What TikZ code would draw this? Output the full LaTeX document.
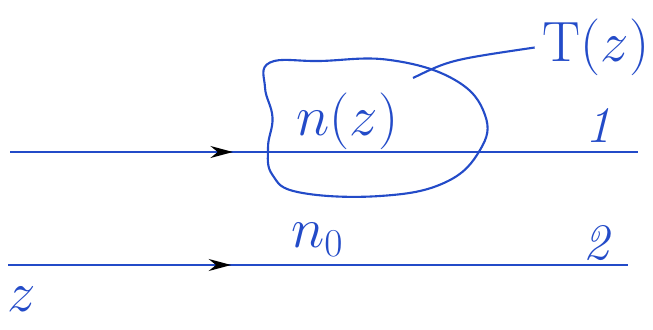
\documentclass[tikz,border=0pt]{standalone}
\usepackage{amsmath,amssymb}
\usepackage{tikz}
\usepackage{xcolor}
\usetikzlibrary{arrows.meta,decorations.markings}
\definecolor{ink}{RGB}{35,75,200}

\begin{document}
\begin{tikzpicture}[x=1cm,y=1cm,every node/.style={font=\fontsize{24}{28}\selectfont,text=ink,scale=1.3},
  ray/.style={ink,line width=1.2pt,postaction={decorate},
    decoration={markings,mark=at position #1 with {\arrow[black]{Stealth[length=4.5mm,width=2.4mm]}}}}]
\useasboundingbox (0,0) rectangle (13.06,-6.58);
% the two rays
\coordinate (a1) at (0.2,-3.04);
\coordinate (b1) at (12.76,-3.04);
\coordinate (a2) at (0.16,-5.3);
\coordinate (b2) at (12.56,-5.3);
\draw[ray=0.355] (a1) -- (b1);
\draw[ray=0.36] (a2) -- (b2);
% region with n(z)
\draw[ink,line width=1.2pt] plot[smooth cycle,tension=0.7] coordinates
  {(5.4,-1.25) (5.3,-1.75) (5.45,-2.35) (5.36,-2.95) (5.45,-3.5) (6.0,-3.85)
   (7.6,-3.92) (8.9,-3.65) (9.6,-3.0) (9.7,-2.3) (9.1,-1.6) (7.8,-1.2) (6.4,-1.22)};
\node (nz) at (6.95,-2.42) {$n(z)$};
\node (Tz) at (11.92,-0.95) {$\mathrm{T}(z)$};
\coordinate (tin) at (8.26,-1.56);
\draw[ink,line width=1.2pt] (tin) .. controls (9.0,-1.2) .. (Tz.west);
\node[scale=0.9] (one) at (12.04,-2.52) {$\mathit{1}$};
\node (nzero) at (6.35,-4.8) {$n_0$};
\node[scale=0.9] (two) at (12.0,-4.86) {$\mathit{2}$};
\node (zlab) at (0.44,-5.98) {$z$};
\end{tikzpicture}
\end{document}
